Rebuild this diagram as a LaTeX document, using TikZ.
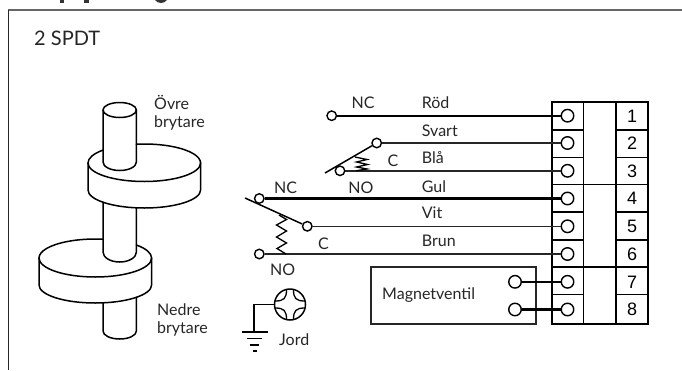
\documentclass[tikz,border=0pt]{standalone}
\usepackage{fontspec}
\usetikzlibrary{calc}
\setmainfont{Lato}
\newfontfamily\numfont{Liberation Sans}
\tikzset{
  x=1pt,y=-1pt,
  lbl/.style={anchor=base west,inner sep=0pt,font=\fontsize{16}{18}\selectfont,text=black!85},
  lblc/.style={anchor=base,inner sep=0pt,font=\fontsize{16}{18}\selectfont,text=black!85},
  num/.style={anchor=base,inner sep=0pt,font=\numfont\fontsize{18}{20}\selectfont},
  term/.style={circle,draw=black,line width=1.4pt,fill=white,minimum size=12.5pt,inner sep=0pt},
  contact/.style={term,minimum size=9.5pt},
  wire/.style={line width=1.4pt,black!85},
  wirethick/.style={line width=2.1pt,black},
  outline part/.style={line width=1.5pt,draw=black,line join=round,line cap=round},
  cell/.style={line width=1.8pt,black},
}
\begin{document}
\begin{tikzpicture}
\useasboundingbox (0,0) rectangle (682,370);
% frame
\draw[line width=1.8pt,black!60] (8,10) -- (682,10);
\draw[line width=1.2pt,black!85] (8.5,10) -- (8.5,370);
% clipped heading remnants
\fill[black!80] (60,0) rectangle (64,2.5);
\fill[black!80] (84,0) rectangle (89,2.5);
\fill[black!80] (155,0) .. controls (158,4) and (164,4) .. (167,0) -- cycle;
% title
\node[lbl,font=\fontsize{20}{22}\selectfont] (title) at (34,45) {2 SPDT};
% lower shaft
\draw[outline part] (103,302.8) -- (103,331) arc[start angle=180,end angle=360,x radius=16.7pt,y radius=8pt] -- (136.4,297.3);
% lower disc
\draw[outline part] (95.3,239) ++(-56.3,19) coordinate (ld)
  arc[start angle=180,end angle=82.1,x radius=56.3pt,y radius=19pt];
\draw[outline part] (151.6,258) arc[start angle=0,end angle=43.1,x radius=56.3pt,y radius=19pt];
\draw[outline part] (39,258) -- (39,285) arc[start angle=180,end angle=360,x radius=56.3pt,y radius=18pt] -- (151.6,258);
\draw[outline part] (39,258) arc[start angle=180,end angle=360,x radius=56.3pt,y radius=19pt];
% middle shaft
\draw[outline part] (103,202.2) -- (103,252) arc[start angle=180,end angle=360,x radius=16.7pt,y radius=10pt] -- (136.4,207.8);
% upper disc
\draw[outline part] (88,163) arc[start angle=180,end angle=137.2,x radius=56.3pt,y radius=19pt];
\draw[outline part] (200.6,163) arc[start angle=0,end angle=98.1,x radius=56.3pt,y radius=19pt];
\draw[outline part] (88,163) -- (88,190) arc[start angle=180,end angle=360,x radius=56.3pt,y radius=18pt] -- (200.6,163);
\draw[outline part] (88,163) arc[start angle=180,end angle=360,x radius=56.3pt,y radius=18.5pt];
% top shaft
\draw[outline part] (103,110) -- (103,162) arc[start angle=180,end angle=360,x radius=16.7pt,y radius=8.5pt] -- (136.4,110);
\draw[outline part] (119.7,110) ellipse[x radius=16.7pt,y radius=7.5pt];
\node[lbl] (ovre) at (154,109) {Övre};
\node[lbl] (obry) at (154,127.5) {brytare};
\node[lbl] (nedre) at (157,315) {Nedre};
\node[lbl] (nbry) at (157,333) {brytare};
% terminal block
\draw[cell] (551.7,102) rectangle (648,323.8);
\draw[cell] (583.5,102) -- (583.5,323.8);
\draw[cell] (615.7,102) -- (615.7,323.8);
\foreach \y in {130,157.5,212,240,294.5}{
  \draw[cell] (551.7,\y) -- (583.5,\y);
  \draw[cell] (615.7,\y) -- (648,\y);
}
\foreach \y in {184.5,267}{
  \draw[cell] (551.7,\y) -- (648,\y);
}
\foreach \i/\y in {1/115.7,2/143,3/170.8,4/198.5,5/226.3,6/254,7/281.8,8/309.5}{
  \node[term] (t\i) at (567.5,\y) {};
  \pgfmathsetmacro{\b}{\y+6.3}
  \node[num] (n\i) at (632,\b) {\i};
}
% switch contacts
\node[contact] (rod) at (331.7,115.7) {};
\node[contact] (sva) at (376.7,143) {};
\node[contact] (bla) at (340,170.8) {};
\node[contact] (gul) at (259.3,198.5) {};
\node[contact] (vit) at (307.3,226.3) {};
\node[contact] (bru) at (259.3,254) {};
\coordinate (arma) at (325,173);
\coordinate (armb) at (245,198);
% wires
\draw[wirethick,line width=1.8pt] (rod) -- (t1);
\draw[wire] (sva) -- (t2);
\draw[wire,line width=1.7pt] (bla) -- (t3);
\draw[wirethick] (gul) -- (t4);
\draw[wire] (vit) -- (t5);
\draw[wire] (bru) -- (t6);
% switch arms
\draw[line width=1.5pt] (arma) -- (sva);
\draw[line width=1.5pt] (armb) -- (vit);
% springs
\draw[line width=1.3pt,line join=miter] (355,157) -- (367,159.5) -- (356.5,162) -- (367.5,164.5) -- (356.5,167) -- (367,169) -- (356,170.8);
\draw[line width=1.3pt,line join=miter] (279,215) -- (286.5,219.5) -- (276.5,225) -- (286.5,231) -- (276.5,237) -- (286.5,243) -- (277,248.5) -- (286,254);
% wire labels
\node[lblc] (lnc1) at (363,108) {NC};
\node[lbl] (lrod) at (421.7,108) {Röd};
\node[lbl] (lsva) at (421.7,136.5) {Svart};
\node[lbl] (lbla) at (421.7,163) {Blå};
\node[lblc] (lc1) at (393,166.5) {C};
\node[lbl] (lgul) at (421.7,192) {Gul};
\node[lblc] (lnc2) at (285.5,193) {NC};
\node[lblc] (lno1) at (361,193) {NO};
\node[lbl] (lvit) at (421.7,218) {Vit};
\node[lbl] (lbru) at (421.7,246.5) {Brun};
\node[lblc] (lc2) at (323.5,249) {C};
\node[lblc] (lno2) at (282.7,275.5) {NO};
% solenoid valve
\node[draw=black!85,line width=1.8pt,minimum width=165.3pt,minimum height=57.3pt,inner sep=0pt] (mbox) at (453.4,295.4) {};
\node[lbl] (mtxt) at (382,299) {Magnetventil};
\node[term] (m1) at (515,281.8) {};
\node[term] (m2) at (515,309.5) {};
\draw[wirethick] (m1) -- (t7);
\draw[wirethick] (m2) -- (t8);
% earth
\node[circle,draw=black,line width=1.5pt,minimum size=31pt,inner sep=0pt] (jc) at (290,304.5) {};
\foreach \sx/\sy in {1/1,1/-1,-1/1,-1/-1}{
  \draw[line width=1.3pt] ($(jc.center)+(\sx*3.5,\sy*15)$) .. controls ($(jc.center)+(\sx*3.5,\sy*6)$) and ($(jc.center)+(\sx*6,\sy*3.5)$) .. ($(jc.center)+(\sx*15,\sy*3.5)$);
}
\coordinate (gnd) at (254,332);
\draw[line width=1.6pt] (jc.west) -| (gnd);
\draw[line width=1.6pt] (241.7,332) -- (267.7,332);
\draw[line width=1.4pt] (247,338.3) -- (262,338.3);
\draw[line width=1.4pt] (250,345) -- (259,345);
\draw[line width=1.4pt] (252.5,351) -- (256.5,351);
\node[lbl] (ljord) at (279,345) {Jord};
\end{tikzpicture}
\end{document}
